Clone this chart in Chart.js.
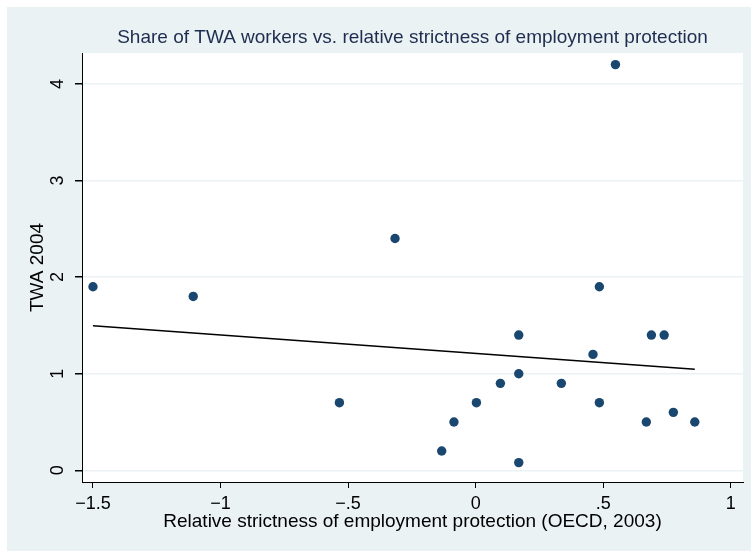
<!DOCTYPE html>
<html>
<head>
<meta charset="utf-8">
<script src="https://cdn.jsdelivr.net/npm/chart.js@4"></script>
<style>
  html, body { margin: 0; padding: 0; background: #fff; }
  canvas { display: block; }
</style>
</head>
<body>
<canvas id="grafico" width="751" height="551"></canvas>
<script>
// dados
const epl = [-1.5, -1.107, -0.316, -0.534, -0.133, -0.085, 0.003, 0.097, 0.169, 0.169, 0.169,
             0.336, 0.46, 0.485, 0.485, 0.548, 0.689, 0.739, 0.669, 0.775, 0.859];
const twa = [1.9, 1.8, 2.4, 0.7, 0.2, 0.5, 0.7, 0.9, 1.4, 1.0, 0.08,
             0.9, 1.2, 1.9, 0.7, 4.2, 1.4, 1.4, 0.5, 0.6, 0.5];
// linha ajustada (extremos)
const fitX = [-1.5, 0.859];
const fitY = [1.497, 1.047];

const xTicks = [-1.5, -1, -0.5, 0, 0.5, 1];
const xTickLabels = ['\u22121.5', '\u22121', '\u2212.5', '0', '.5', '1'];
const yTicks = [0, 1, 2, 3, 4];
const yTickLabels = ['0', '1', '2', '3', '4'];

const fonte = 'Liberation Sans, Arial, Helvetica, sans-serif';

// fundo estilo Stata
const fundo = {
    id: 'fundo',
    beforeDraw(chart) {
        const { ctx, chartArea: a, width, height } = chart;
        ctx.save();
        ctx.fillStyle = '#ffffff';
        ctx.fillRect(0, 0, width, height);
        ctx.fillStyle = '#eaf2f3';
        ctx.fillRect(7, 7, width - 7, height - 7);
        ctx.fillStyle = '#ffffff';
        ctx.fillRect(a.left, a.top, a.right - a.left, a.bottom - a.top);
        ctx.restore();
    }
};

new Chart(document.getElementById('grafico'), {
    type: 'scatter',
    data: {
        datasets: [
            {
                label: 'TWA 2004',
                data: epl.map((x, i) => ({ x, y: twa[i] })),
                backgroundColor: '#1a476f',
                borderColor: '#1a476f',
                pointRadius: 4.7,
                pointBorderWidth: 0
            },
            {
                type: 'line',
                label: 'Fitted values',
                data: fitX.map((x, i) => ({ x, y: fitY[i] })),
                borderColor: '#000000',
                borderWidth: 1.5,
                pointRadius: 0,
                fill: false
            }
        ]
    },
    options: {
        responsive: false,
        animation: false,
        layout: { padding: { left: 0, top: 0, right: 8, bottom: 0 } },
        plugins: {
            legend: { display: false },
            tooltip: { enabled: false },
            title: {
                display: true,
                fullSize: false, // centraliza sobre a área do gráfico
                text: 'Share of TWA workers vs. relative strictness of employment protection',
                color: '#1e2d4f',
                font: { family: fonte, size: 19, weight: 'normal', lineHeight: 1.2 },
                padding: { top: 26, bottom: 4.2 }
            }
        },
        scales: {
            x: {
                type: 'linear',
                min: -1.543,
                max: 1.048,
                afterBuildTicks: s => { s.ticks = xTicks.map(v => ({ value: v })); },
                afterFit: s => { s.height = 69; },
                grid: { color: 'rgba(0,0,0,0)', tickColor: '#000', tickLength: 6, lineWidth: 1 },
                border: { color: '#000', width: 1 },
                ticks: {
                    color: '#000',
                    font: { family: fonte, size: 18 },
                    padding: 5,
                    maxRotation: 0,
                    autoSkip: false,
                    callback: (v) => xTickLabels[xTicks.indexOf(v)]
                },
                title: {
                    display: true,
                    text: 'Relative strictness of employment protection (OECD, 2003)',
                    color: '#000',
                    font: { family: fonte, size: 19, lineHeight: 1.2 },
                    padding: { top: 0, bottom: 17.8 }
                }
            },
            y: {
                type: 'linear',
                min: -0.121,
                max: 4.32,
                afterBuildTicks: s => { s.ticks = yTicks.map(v => ({ value: v })); },
                afterFit: s => { s.width = 82; },
                grid: { color: '#eaf2f3', tickColor: '#000', tickLength: 7, lineWidth: 1.5 },
                border: { color: '#000', width: 1 },
                ticks: {
                    color: '#000',
                    font: { family: fonte, size: 18 },
                    padding: 12,
                    minRotation: 90,
                    maxRotation: 90,
                    crossAlign: 'center',
                    autoSkip: false,
                    callback: (v) => yTickLabels[yTicks.indexOf(v)]
                },
                title: {
                    display: true,
                    text: 'TWA 2004',
                    color: '#000',
                    font: { family: fonte, size: 19, lineHeight: 1.2 },
                    padding: { top: 26, bottom: 0 }
                }
            }
        }
    },
    plugins: [fundo]
});
</script>
</body>
</html>
